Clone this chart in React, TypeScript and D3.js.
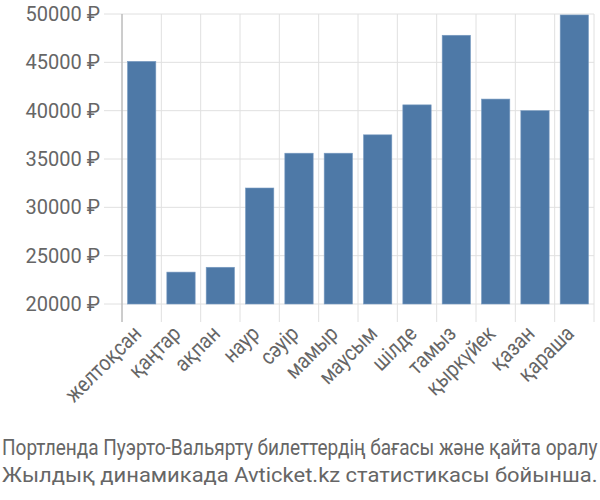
import React, { useEffect, useRef } from 'react';
import * as d3 from 'd3';

// month labels (Kazakh), starting from December
const months = [
  'желтоқсан', 'қаңтар', 'ақпан', 'наур', 'сәуір', 'мамыр',
  'маусым', 'шілде', 'тамыз', 'қыркүйек', 'қазан', 'қараша',
];

// average ticket price per month, roubles
const prices = [
  45100, 23300, 23800, 32000, 35600, 35600,
  37500, 40600, 47800, 41200, 40000, 49900,
];

const yTicks = [20000, 25000, 30000, 35000, 40000, 45000, 50000];

const titleLines = [
  'Портленда Пуэрто-Вальярту билеттердің бағасы және қайта оралу',
  'Жылдық динамикада Avticket.kz статистикасы бойынша.',
];

const App = () => {
  const svgRef = useRef<SVGSVGElement>(null);

  useEffect(() => {
    const svg = d3.select(svgRef.current);
    svg.selectAll('*').remove();

    const width = 600;
    const height = 500;
    const margin = { top: 14, right: 6, bottom: 196, left: 122 };
    const font = 'Roboto, sans-serif';

    const x = d3
      .scaleBand()
      .domain(months)
      .range([margin.left, width - margin.right])
      .paddingInner(0.28)
      .paddingOuter(0.14);

    const y = d3
      .scaleLinear()
      .domain([20000, 50000])
      .range([height - margin.bottom, margin.top]);

    const step = x.step();
    const edges = d3.range(months.length + 1).map((i) => margin.left + i * step);

    // vertical grid at band boundaries
    svg.append('g')
      .selectAll('line')
      .data(edges)
      .join('line')
      .attr('x1', (d) => d)
      .attr('x2', (d) => d)
      .attr('y1', margin.top)
      .attr('y2', y(20000) + 18)
      .attr('stroke', '#e0e0e0')
      .attr('stroke-width', 1);

    // horizontal grid
    svg.append('g')
      .selectAll('line')
      .data(yTicks)
      .join('line')
      .attr('x1', margin.left - 18)
      .attr('x2', width - margin.right)
      .attr('y1', (d) => y(d))
      .attr('y2', (d) => y(d))
      .attr('stroke', '#e0e0e0')
      .attr('stroke-width', 1);

    // y axis line
    svg.append('line')
      .attr('x1', margin.left)
      .attr('x2', margin.left)
      .attr('y1', margin.top)
      .attr('y2', y(20000) + 18)
      .attr('stroke', '#aaaaaa')
      .attr('stroke-width', 1);

    // bars
    svg.append('g')
      .selectAll('rect')
      .data(prices)
      .join('rect')
      .attr('x', (_, i) => x(months[i]) as number)
      .attr('y', (d) => y(d))
      .attr('width', x.bandwidth())
      .attr('height', (d) => y(20000) - y(d))
      .attr('fill', '#4e79a7')
      .attr('stroke', '#7a9cc2')
      .attr('stroke-width', 0.6);

    // y tick labels
    svg.append('g')
      .selectAll('text')
      .data(yTicks)
      .join('text')
      .attr('x', 100)
      .attr('y', (d) => y(d) + 7)
      .attr('text-anchor', 'end')
      .style('font-family', font)
      .style('font-size', '20px')
      .style('fill', '#666')
      .text((d) => `${d} ₽`);

    // x tick labels, rotated and a bit condensed
    svg.append('g')
      .selectAll('text')
      .data(months)
      .join('text')
      .attr('transform', (d) => {
        const cx = (x(d) as number) + x.bandwidth() / 2 + 1;
        return `translate(${cx},${y(20000) + 31}) rotate(-45) scale(0.86,1)`;
      })
      .attr('text-anchor', 'end')
      .style('font-family', font)
      .style('font-size', '22px')
      .style('fill', '#666')
      .text((d) => d);

    // caption: squeeze each line horizontally so it spans the full width
    const caption = svg.append('g')
      .selectAll('text')
      .data(titleLines)
      .join('text')
      .style('font-family', font)
      .style('font-size', (_, i) => (i === 0 ? '22px' : '21px'))
      .style('fill', '#666')
      .text((d) => d);

    caption.each(function (_, i) {
      const el = this as SVGTextElement;
      const len = el.getComputedTextLength() || 596;
      const sx = 596 / len;
      d3.select(el).attr(
        'transform',
        `translate(2,${455 + i * 27}) scale(${sx},1)`,
      );
    });
  }, []);

  return (
    <svg
      ref={svgRef}
      width={600}
      height={500}
      style={{ position: 'absolute', left: 0, top: 0 }}
    />
  );
};

export default App;
